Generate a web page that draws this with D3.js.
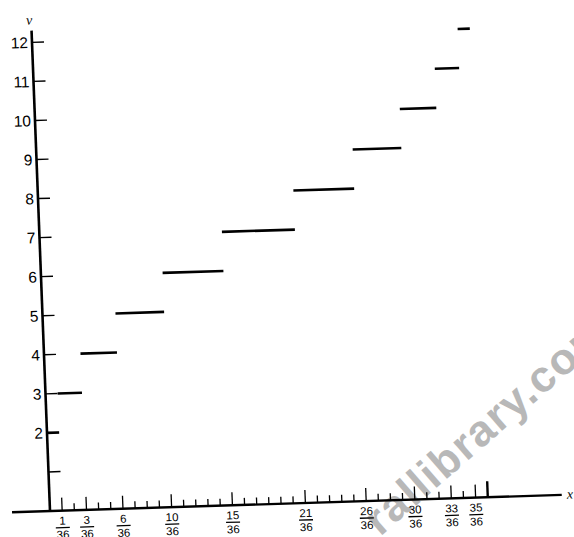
<!DOCTYPE html>
<html>
<head>
<meta charset="utf-8">
<script src="https://cdn.jsdelivr.net/npm/d3@7"></script>
<style>
  html, body { margin: 0; padding: 0; background: #fff; }
  svg { display: block; }
</style>
</head>
<body>
<div id="chart"></div>
<script>
// ---- data ----
const sums = [2, 3, 4, 5, 6, 7, 8, 9, 10, 11, 12];
const cumNumerators = [0, 1, 3, 6, 10, 15, 21, 26, 30, 33, 35, 36];
const denominator = 36;
const xLabelNumerators = [1, 3, 6, 10, 15, 21, 26, 30, 33, 35];
const yTickValues = [1, 2, 3, 4, 5, 6, 7, 8, 9, 10, 11, 12];
const yLabelValues = [2, 3, 4, 5, 6, 7, 8, 9, 10, 11, 12];
const xAxisLabel = "x";
const yAxisLabel = "v";
const watermark = "rallibrary.com";

// ---- layout ----
const W = 574, H = 537;
const origin = [50, 511];
const degX = 1.8 * Math.PI / 180, degY = 2.2 * Math.PI / 180;

const svg = d3.select("#chart").append("svg")
  .attr("width", W).attr("height", H)
  .attr("font-family", "'Liberation Sans', Arial, sans-serif");

// watermark (behind)
svg.append("text")
  .attr("transform", "translate(380,537) rotate(-41)")
  .attr("font-size", 44).attr("font-weight", "bold")
  .attr("letter-spacing", 1.5)
  .attr("fill", "#b8b8b8")
  .text(watermark);

const g = svg.append("g")
  .attr("transform", `matrix(${Math.cos(degX)},${-Math.sin(degX)},${Math.sin(degY)},${Math.cos(degY)},${origin[0]},${origin[1]})`);

const x = d3.scaleLinear().domain([0, 1]).range([0, 438]);
const y = d3.scaleLinear().domain([0, 12]).range([0, -469]);

// axes lines
g.append("line").attr("x1", -38).attr("x2", 512).attr("y1", 0).attr("y2", 0)
  .attr("stroke", "#000").attr("stroke-width", 2.4);
g.append("line").attr("x1", 0).attr("x2", 0).attr("y1", 0).attr("y2", y(12.3))
  .attr("stroke", "#000").attr("stroke-width", 2.6);

// x ticks
const xTicks = d3.range(1, denominator + 1);
g.selectAll(".xt").data(xTicks).join("line")
  .attr("x1", k => x(k / denominator)).attr("x2", k => x(k / denominator))
  .attr("y1", 0)
  .attr("y2", k => k === denominator ? -16 : (xLabelNumerators.includes(k) ? -13 : -7))
  .attr("stroke", "#000")
  .attr("stroke-width", k => k === denominator ? 2.4 : 1.3);

// x labels as fractions
const xl = g.selectAll(".xl").data(xLabelNumerators).join("g")
  .attr("transform", k => `translate(${x(k / denominator)},0)`);
xl.append("text").attr("y", 14).attr("text-anchor", "middle")
  .attr("font-size", 11.5).text(k => k);
xl.append("line").attr("x1", -7).attr("x2", 7).attr("y1", 17).attr("y2", 17)
  .attr("stroke", "#000").attr("stroke-width", 1.3);
xl.append("text").attr("y", 28).attr("text-anchor", "middle")
  .attr("font-size", 11.5).text(denominator);

// y ticks
g.selectAll(".yt").data(yTickValues).join("line")
  .attr("x1", 0).attr("x2", 12)
  .attr("y1", d => y(d)).attr("y2", d => y(d))
  .attr("stroke", "#000").attr("stroke-width", 1.4);

// y labels
g.selectAll(".yl").data(yLabelValues).join("text")
  .attr("x", -4).attr("y", d => y(d)).attr("dy", "0.36em")
  .attr("text-anchor", "end").attr("font-size", 15.5)
  .text(d => d);

// step segments
const segs = sums.map((s, i) => ({ s, a: cumNumerators[i] / denominator, b: cumNumerators[i + 1] / denominator }));
g.selectAll(".seg").data(segs).join("line")
  .attr("x1", d => x(d.a)).attr("x2", d => x(d.b))
  .attr("y1", d => y(d.s)).attr("y2", d => y(d.s))
  .attr("stroke", "#000").attr("stroke-width", 2.6);

// axis titles
g.append("text").attr("x", -2).attr("y", y(12.3) - 6)
  .attr("font-size", 14).attr("font-style", "italic").attr("font-family", "'Liberation Serif', serif")
  .attr("text-anchor", "middle").text(yAxisLabel);
g.append("text").attr("x", 517).attr("y", 4)
  .attr("font-size", 14).attr("font-style", "italic").attr("font-family", "'Liberation Serif', serif")
  .text(xAxisLabel);
</script>
</body>
</html>
